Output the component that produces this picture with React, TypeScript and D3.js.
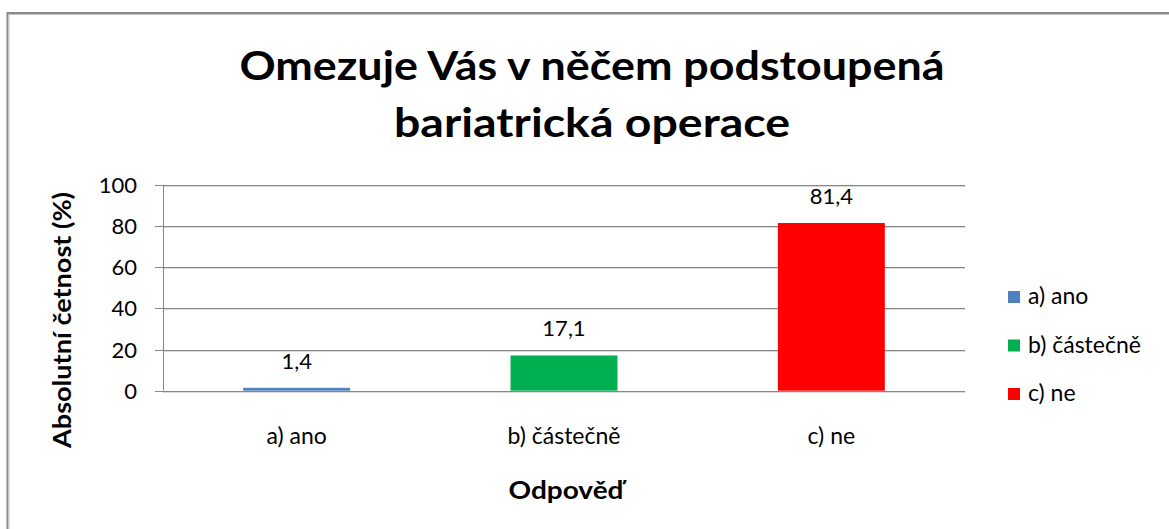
import React from "react";
import * as d3 from "d3";

const categories = ["a) ano", "b) částečně", "c) ne"];
const values = [1.4, 17.1, 81.4];
const valueLabels = ["1,4", "17,1", "81,4"];
const colors = ["#4F81BD", "#00B050", "#FF0000"];
const yTicks = [0, 20, 40, 60, 80, 100];
const titleLines = ["Omezuje Vás v něčem podstoupená", "bariatrická operace"];
const titleWidths = [705, 396];
const yTitle = "Absolutní četnost (%)";
const xTitle = "Odpověď";

const W = 1169;
const H = 529;
const FONT = "Lato, 'Open Sans', sans-serif";

export default function App() {
  const plot = { left: 163, right: 965, top: 184.7, bottom: 390.7 };
  const x = d3.scaleBand().domain(categories).range([plot.left, plot.right]).paddingInner(0.6).paddingOuter(0.3);
  const y = d3.scaleLinear().domain([0, 100]).range([plot.bottom, plot.top]);
  const gridColor = "#878787";

  return (
    <svg width={W} height={H} style={{ position: "absolute", left: 0, top: 0, display: "block", background: "#fff" }}>
      {/* chart frame */}
      <line x1={7.5} y1={13} x2={W} y2={13} stroke="#8a8a8a" strokeWidth={2} />
      <line x1={7} y1={14.5} x2={W} y2={14.5} stroke="#c8c8c8" strokeWidth={1} />
      <line x1={7.5} y1={12} x2={7.5} y2={H} stroke="#8a8a8a" strokeWidth={2} />
      <line x1={9} y1={14} x2={9} y2={H} stroke="#c8c8c8" strokeWidth={1} />

      {/* title */}
      {titleLines.map((t, i) => (
        <text
          key={i}
          x={592}
          y={80 + i * 57}
          textAnchor="middle"
          fontFamily={FONT}
          fontWeight="bold"
          fontSize={40}
          fill="#000"
          textLength={titleWidths[i]}
          lengthAdjust="spacingAndGlyphs"
        >
          {t}
        </text>
      ))}

      {/* gridlines and ticks */}
      {yTicks.map((t) => (
        <g key={t}>
          <line x1={plot.left - 8} x2={plot.right} y1={Math.round(y(t)) + 0.5} y2={Math.round(y(t)) + 0.5} stroke={gridColor} strokeWidth={1} />
          <line x1={plot.left} x2={plot.right} y1={Math.round(y(t)) + 1.5} y2={Math.round(y(t)) + 1.5} stroke="#d9d9d9" strokeWidth={1} />
          <text x={plot.left - 26} y={y(t) + 8} textAnchor="end" fontFamily={FONT} fontSize={22} fill="#000">
            {t}
          </text>
        </g>
      ))}
      <line x1={plot.left + 0.5} x2={plot.left + 0.5} y1={plot.top} y2={plot.bottom} stroke={gridColor} strokeWidth={1} />

      {/* bars */}
      {categories.map((c, i) => (
        <g key={c}>
          <rect x={x(c)} y={y(values[i])} width={x.bandwidth()} height={y(0) - y(values[i])} fill={colors[i]} />
          <text x={(x(c) as number) + x.bandwidth() / 2} y={y(values[i]) - 19} textAnchor="middle" fontFamily={FONT} fontSize={22} fill="#000">
            {valueLabels[i]}
          </text>
          <text x={(x(c) as number) + x.bandwidth() / 2} y={444} textAnchor="middle" fontFamily={FONT} fontSize={23} fill="#000">
            {c}
          </text>
        </g>
      ))}

      {/* axis titles */}
      <text x={566} y={499} textAnchor="middle" fontFamily={FONT} fontWeight="bold" fontSize={25} fill="#000" textLength={115} lengthAdjust="spacingAndGlyphs">
        {xTitle}
      </text>
      <text
        transform={`translate(71,320) rotate(-90)`}
        textAnchor="middle"
        fontFamily={FONT}
        fontWeight="bold"
        fontSize={25}
        fill="#000"
        textLength={256}
        lengthAdjust="spacingAndGlyphs"
      >
        {yTitle}
      </text>

      {/* legend */}
      {categories.map((c, i) => (
        <g key={c}>
          <rect x={1008} y={291 + i * 48.5} width={12} height={12} fill={colors[i]} />
          <text x={1028} y={304 + i * 48.5} fontFamily={FONT} fontSize={23} fill="#000">
            {c}
          </text>
        </g>
      ))}
    </svg>
  );
}
